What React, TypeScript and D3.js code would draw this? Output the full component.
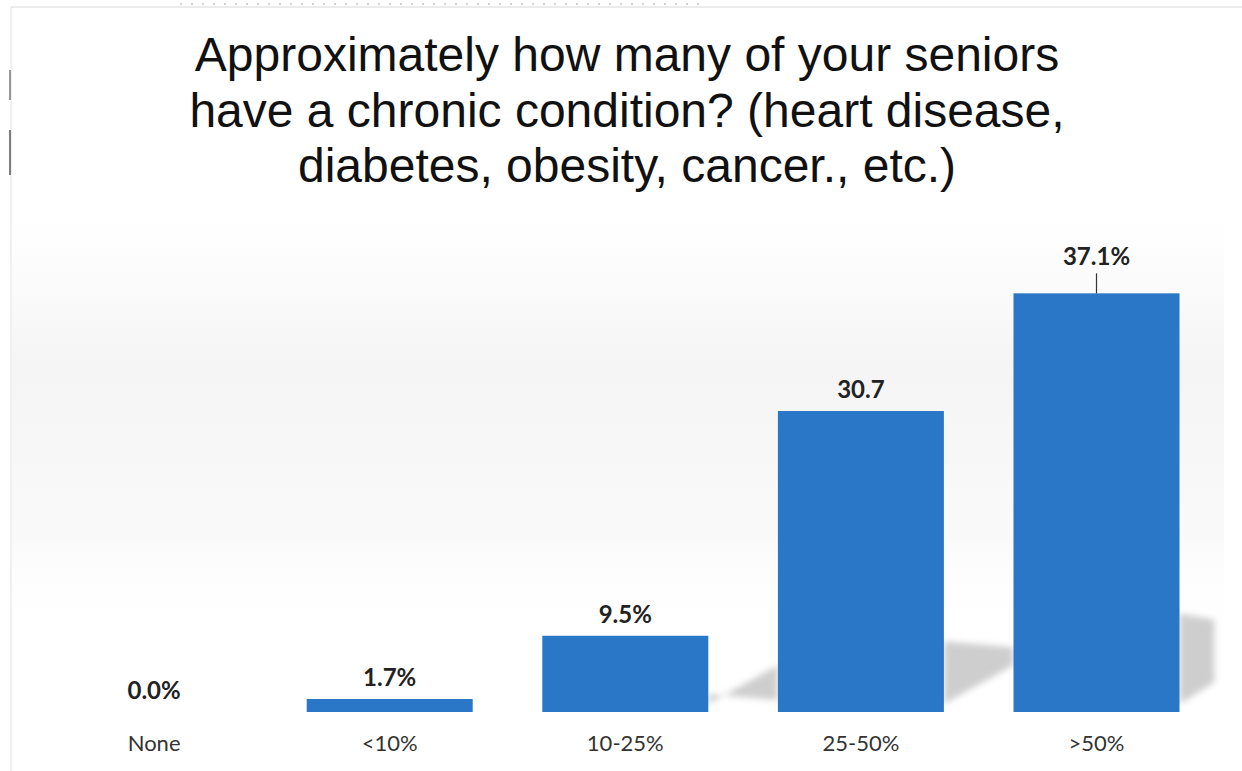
import React from "react";
import * as d3 from "d3";

// ---- data ----
const categories = ["None", "<10%", "10-25%", "25-50%", ">50%"];
// values as printed on the chart
const values = [0.0, 1.7, 9.5, 30.7, 37.1];
const valueLabels = ["0.0%", "1.7%", "9.5%", "30.7", "37.1%"];
// bar heights as actually drawn in the original (chart is not to scale)
const drawnHeights = [0, 1.15, 6.75, 26.65, 37.07];
const titleLines = [
  "Approximately how many of your seniors",
  "have a chronic condition? (heart disease,",
  "diabetes, obesity, cancer., etc.)",
];

const W = 1242;
const H = 771;
const BASE = 712;
const BAR = "#2a77c7";

export default function App() {
  const x = d3
    .scaleBand<string>()
    .domain(categories)
    .range([36.3, 1214.3])
    .paddingInner(0.2954)
    .paddingOuter(0.1477);
  const y = d3.scaleLinear().domain([0, 40]).range([BASE, BASE - 40 * 11.294]);
  const bw = x.bandwidth();
  const step = x.step();
  const rangeEnd = x.range()[1];

  const shadows = categories.map((c, i) => {
    const h = BASE - y(drawnHeights[i]);
    if (h < 50) return null;
    const x1 = (x(c) as number) + bw;
    const w = Math.min(step - bw, rangeEnd - x1);
    const top = BASE - h * 0.235;
    const pts: [number, number][] = [
      [x1, top],
      [x1 + w, top + 6],
      [x1 + w, BASE - 12 - 0.5 * w],
      [x1, BASE - 8],
    ];
    return { i, d: "M" + pts.map((p) => p.join(",")).join("L") + "Z" };
  });

  return (
    <svg
      width={W}
      height={H}
      viewBox={`0 0 ${W} ${H}`}
      style={{ position: "absolute", left: 0, top: 0, background: "#fff" }}
    >
      <defs>
        <filter id="blur" x="-20%" y="-20%" width="140%" height="140%">
          <feGaussianBlur stdDeviation="3" />
        </filter>
        <linearGradient id="bg" x1="0" y1="0" x2="0" y2="1">
          <stop offset="0" stopColor="#f4f4f4" stopOpacity="0" />
          <stop offset="0.35" stopColor="#f2f2f2" stopOpacity="0.8" />
          <stop offset="0.75" stopColor="#f6f6f6" stopOpacity="0.6" />
          <stop offset="1" stopColor="#ffffff" stopOpacity="0" />
        </linearGradient>
      </defs>
      <rect x={0} y={0} width={W} height={H} fill="#fff" />
      <rect x={12} y={220} width={W - 30} height={420} fill="url(#bg)" />

      {/* scan frame */}
      <line x1={11} y1={7} x2={W} y2={7} stroke="#d8d8d8" strokeWidth={1} />
      <line x1={11} y1={7} x2={11} y2={H} stroke="#e2e2e2" strokeWidth={1} />
      <line x1={10} y1={70} x2={10} y2={100} stroke="#777" strokeWidth={1.5} />
      <line x1={10} y1={130} x2={10} y2={175} stroke="#555" strokeWidth={1.5} />
      <line
        x1={180}
        y1={4}
        x2={700}
        y2={4}
        stroke="#aaa"
        strokeWidth={1}
        strokeDasharray="2 9"
      />

      {/* title */}
      <text
        x={627}
        textAnchor="middle"
        fontFamily="'Liberation Sans', Arial, sans-serif"
        fontSize={48}
        fill="#111"
      >
        {titleLines.map((t, i) => (
          <tspan key={i} x={627} y={71 + i * 55.5}>
            {t}
          </tspan>
        ))}
      </text>

      {/* shadows */}
      {shadows.map((s) =>
        s ? (
          <path key={s.i} d={s.d} fill="#c6c6c6" opacity={0.85} filter="url(#blur)" />
        ) : null
      )}

      {/* bars */}
      {categories.map((c, i) => (
        <rect
          key={c}
          x={x(c)}
          y={y(drawnHeights[i])}
          width={bw}
          height={BASE - y(drawnHeights[i])}
          fill={BAR}
        />
      ))}

      {/* value labels */}
      {categories.map((c, i) => {
        const cx = (x(c) as number) + bw / 2;
        const top = y(drawnHeights[i]);
        const leader = i === categories.length - 1;
        const ly = leader ? top - 28 : top - 13;
        return (
          <g key={c}>
            {leader && (
              <line x1={cx} y1={top - 20} x2={cx} y2={top} stroke="#333" strokeWidth={1.2} />
            )}
            <text
              x={cx}
              y={ly}
              textAnchor="middle"
              fontFamily="Lato, 'Open Sans', sans-serif"
              fontWeight={700}
              fontSize={24}
              fill="#222"
            >
              {valueLabels[i] ?? values[i].toFixed(1) + "%"}
            </text>
          </g>
        );
      })}

      {/* category labels */}
      {categories.map((c) => (
        <text
          key={c}
          x={(x(c) as number) + bw / 2}
          y={751}
          textAnchor="middle"
          fontFamily="Lato, 'Open Sans', sans-serif"
          fontSize={22}
          fill="#333"
        >
          {c}
        </text>
      ))}
    </svg>
  );
}
